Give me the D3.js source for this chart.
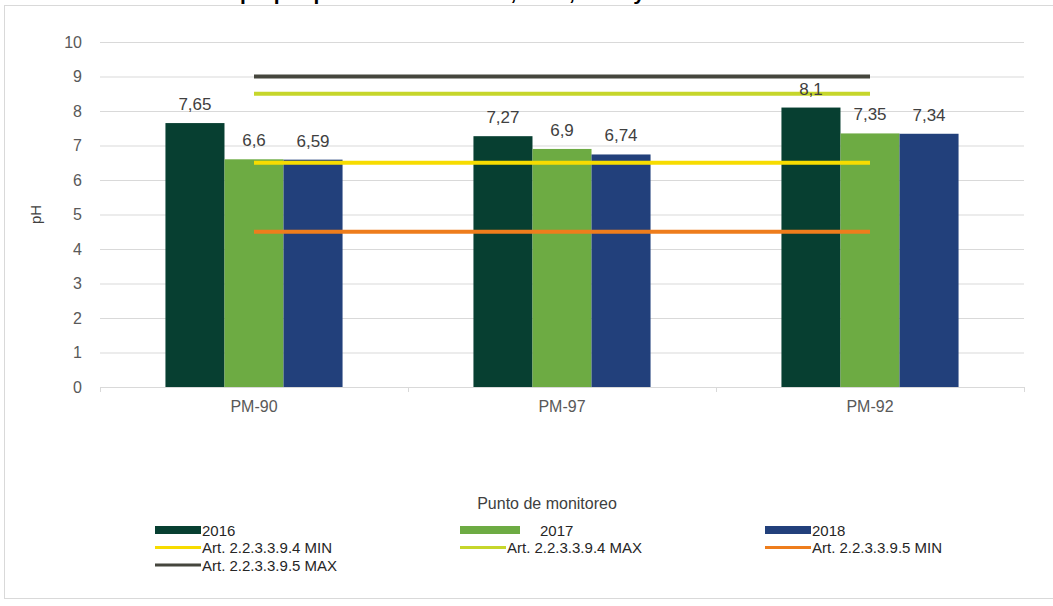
<!DOCTYPE html>
<html>
<head>
<meta charset="utf-8">
<script src="https://cdn.jsdelivr.net/npm/d3@7"></script>
<style>
  html, body { margin: 0; padding: 0; background: #ffffff; }
  svg { display: block; font-family: "Liberation Sans", Arial, sans-serif; }
</style>
</head>
<body>
<svg id="chart" width="1053" height="606"></svg>
<script>
// Monitoring points and yearly pH readings
const points = ["PM-90", "PM-97", "PM-92"];
const years = ["2016", "2017", "2018"];
const ph2016 = [7.65, 7.27, 8.1];
const ph2017 = [6.6, 6.9, 7.35];
const ph2018 = [6.59, 6.74, 7.34];
const yTicks = [0, 1, 2, 3, 4, 5, 6, 7, 8, 9, 10];

// Regulatory limits (constant across the monitoring points)
const limitNames = ["Art. 2.2.3.3.9.4 MIN", "Art. 2.2.3.3.9.4 MAX", "Art. 2.2.3.3.9.5 MIN", "Art. 2.2.3.3.9.5 MAX"];
const limitValues = [6.5, 8.5, 4.5, 9];

const title = "Gráfica 3. Variación del pH por punto de monitoreo, 2016, 2017 y 2018";

const yearColors = ["#073f31", "#6dab43", "#22407b"];
const limitColors = ["#f7dc00", "#c6d62b", "#ee7d1c", "#45463d"];

const svg = d3.select("#chart");

// Title, running off the top edge of the page
svg.append("text")
  .attr("x", 3).attr("y", 0)
  .attr("font-size", 21).attr("font-weight", "bold").attr("fill", "#000")
  .text(title);

// Chart frame
svg.append("rect")
  .attr("x", 4.5).attr("y", 5.5).attr("width", 1060).attr("height", 593)
  .attr("fill", "#ffffff").attr("stroke", "#d9d9d9").attr("stroke-width", 1);

const plot = { left: 100, right: 1024, top: 42, bottom: 387 };

const x = d3.scaleBand()
  .domain(points)
  .range([plot.left, plot.right])
  .paddingInner(0.425)
  .paddingOuter(0.2125);

const xi = d3.scaleBand()
  .domain(years)
  .range([0, x.bandwidth()])
  .padding(0);

const y = d3.scaleLinear().domain([0, 10]).range([plot.bottom, plot.top]);

// Horizontal gridlines
svg.append("g")
  .selectAll("line")
  .data(yTicks)
  .join("line")
  .attr("x1", plot.left).attr("x2", plot.right)
  .attr("y1", d => y(d) + 0.5).attr("y2", d => y(d) + 0.5)
  .attr("stroke", "#d9d9d9").attr("stroke-width", 1);

// Y axis labels
const yAxis = d3.axisLeft(y).tickValues(yTicks).tickSize(0).tickPadding(0).tickFormat(d3.format("d"));
const yg = svg.append("g").attr("transform", `translate(${plot.left - 18},0)`).call(yAxis);
yg.select(".domain").remove();
yg.selectAll("text").attr("font-size", 16).attr("fill", "#595959").attr("font-family", "Liberation Sans, Arial, sans-serif");

// X axis labels and small category ticks
const xAxis = d3.axisBottom(x).tickSize(0).tickPadding(14);
const xg = svg.append("g").attr("transform", `translate(0,${plot.bottom})`).call(xAxis);
xg.select(".domain").remove();
xg.selectAll("text").attr("font-size", 16).attr("fill", "#595959").attr("font-family", "Liberation Sans, Arial, sans-serif");

const step = x.step();
const bounds = [plot.left, plot.left + step, plot.left + 2 * step, plot.right];
svg.append("g").selectAll("line").data(bounds).join("line")
  .attr("x1", d => d + 0.5).attr("x2", d => d + 0.5)
  .attr("y1", plot.bottom).attr("y2", plot.bottom + 5)
  .attr("stroke", "#d9d9d9");

// Bars
const series = [ph2016, ph2017, ph2018];
const barData = [];
points.forEach((p, i) => {
  years.forEach((yr, j) => {
    barData.push({ point: p, year: yr, value: series[j][i], color: yearColors[j] });
  });
});

svg.append("g")
  .selectAll("rect")
  .data(barData)
  .join("rect")
  .attr("x", d => x(d.point) + xi(d.year))
  .attr("width", xi.bandwidth())
  .attr("y", d => y(d.value))
  .attr("height", d => y(0) - y(d.value))
  .attr("fill", d => d.color);

// Limit lines, drawn across category centres
const lineGen = d3.line()
  .x(d => x(d.point) + x.bandwidth() / 2)
  .y(d => y(d.value));

limitValues.forEach((v, k) => {
  svg.append("path")
    .datum(points.map(p => ({ point: p, value: v })))
    .attr("d", lineGen)
    .attr("fill", "none")
    .attr("stroke", limitColors[k])
    .attr("stroke-width", 4);
});

// Value labels
const fmt = v => String(v).replace(".", ",");
svg.append("g")
  .selectAll("text")
  .data(barData)
  .join("text")
  .attr("x", d => x(d.point) + xi(d.year) + xi.bandwidth() / 2)
  .attr("y", d => y(d.value) - 13)
  .attr("text-anchor", "middle")
  .attr("font-size", 17)
  .attr("fill", "#404040")
  .text(d => fmt(d.value));

// Axis titles
svg.append("text")
  .attr("transform", `translate(41,${(plot.top + plot.bottom) / 2}) rotate(-90)`)
  .attr("text-anchor", "middle")
  .attr("font-size", 15).attr("fill", "#404040")
  .text("pH");

svg.append("text")
  .attr("x", 547).attr("y", 509)
  .attr("text-anchor", "middle")
  .attr("font-size", 16).attr("fill", "#404040")
  .text("Punto de monitoreo");

// Legend
const legendItems = [
  { name: years[0], color: yearColors[0], kind: "bar" },
  { name: years[1], color: yearColors[1], kind: "bar" },
  { name: years[2], color: yearColors[2], kind: "bar" },
  { name: limitNames[0], color: limitColors[0], kind: "line" },
  { name: limitNames[1], color: limitColors[1], kind: "line" },
  { name: limitNames[2], color: limitColors[2], kind: "line" },
  { name: limitNames[3], color: limitColors[3], kind: "line" }
];
const colX = [155, 460, 765];
const rowY = [530, 547.5, 565];

const lg = svg.append("g").selectAll("g").data(legendItems).join("g")
  .attr("transform", (d, i) => `translate(${colX[i % 3]},${rowY[Math.floor(i / 3)]})`);

lg.append("rect")
  .attr("x", 0)
  .attr("y", d => d.kind === "bar" ? -4 : -1.5)
  .attr("width", (d, i) => i === 1 ? 60 : 46)
  .attr("height", d => d.kind === "bar" ? 8 : 3)
  .attr("fill", d => d.color);

lg.append("text")
  .attr("x", (d, i) => i === 1 ? 80 : 47)
  .attr("y", 5.5)
  .attr("font-size", 15)
  .attr("fill", "#262626")
  .text(d => d.name);
</script>
</body>
</html>
